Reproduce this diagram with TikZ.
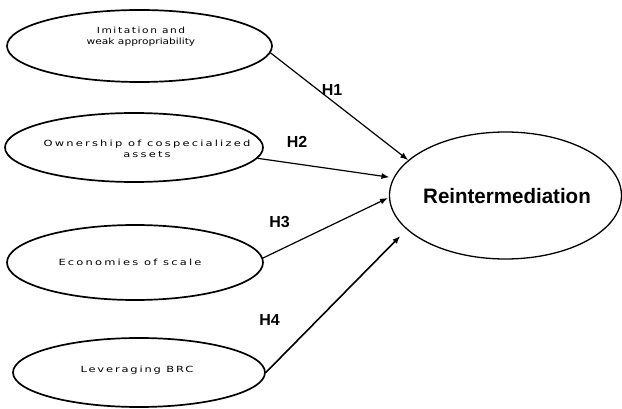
\documentclass[tikz,border=0pt]{standalone}
\usepackage{fontspec}
\setmainfont{Liberation Sans}
\newfontfamily\smallfont{DejaVu Sans}
\usetikzlibrary{shapes.geometric,arrows.meta}
\tikzset{
  oval/.style={draw=black,line width=1.7pt,ellipse,inner sep=0pt},
  smalltxt/.style={font=\fontsize{8.5}{11}\selectfont\smallfont,align=center,inner sep=0pt,text=black,transform shape},
  hyp/.style={font=\fontsize{16}{17}\selectfont\bfseries,inner sep=0pt},
  link/.style={line width=1.2pt,-{Latex[length=8pt,width=6pt]}},
}
\begin{document}
\begin{tikzpicture}[x=1pt,y=-1pt]
\useasboundingbox (0,0) rectangle (622,409);
\node[oval,minimum width=265pt,minimum height=72pt] (e1) at (139.5,46) {};
\node[oval,minimum width=258pt,minimum height=69pt] (e2) at (134,147.5) {};
\node[oval,minimum width=256pt,minimum height=75pt] (e3) at (135,262.5) {};
\node[oval,minimum width=252pt,minimum height=69pt] (e4) at (139,372.5) {};
\node[oval,line width=1.3pt,minimum width=232pt,minimum height=127pt] (r) at (505.5,195.5) {};

\node[smalltxt,xscale=1.25] (t1) at (141,37) {\addfontfeature{LetterSpace=15}Imitation and\\\addfontfeature{LetterSpace=0}weak appropriability};
\node[smalltxt,xscale=1.35] (t2) at (147,149) {\addfontfeature{LetterSpace=19}Ownership of cospecialized\\\addfontfeature{LetterSpace=19}assets};
\node[smalltxt,xscale=1.35] (t3) at (130,262) {\addfontfeature{LetterSpace=19}Economies of scale};
\node[smalltxt,xscale=1.35] (t4) at (137,370) {\addfontfeature{LetterSpace=16}Leveraging BRC};
\node[font=\fontsize{19}{20}\selectfont\bfseries,inner sep=0pt,transform shape,xscale=1.08,yscale=1.1] (tr) at (507,196) {Reintermediation};

\draw[link] (e1.-3.2) -- (r.160.2);
\draw[link,shorten >=4pt] (e2.-5.6) -- (r.171);
\draw[link,shorten >=1pt] (e3.2) -- (r.181.2);
\draw[link,line width=1.6pt,shorten >=9pt] (e4.0) -- (r.199.2);

\node[hyp] (h1) at (332,89.5) {H1};
\node[hyp] (h2) at (297,142) {H2};
\node[hyp] (h3) at (279.5,222.5) {H3};
\node[hyp] (h4) at (269.5,320) {H4};
\end{tikzpicture}
\end{document}
